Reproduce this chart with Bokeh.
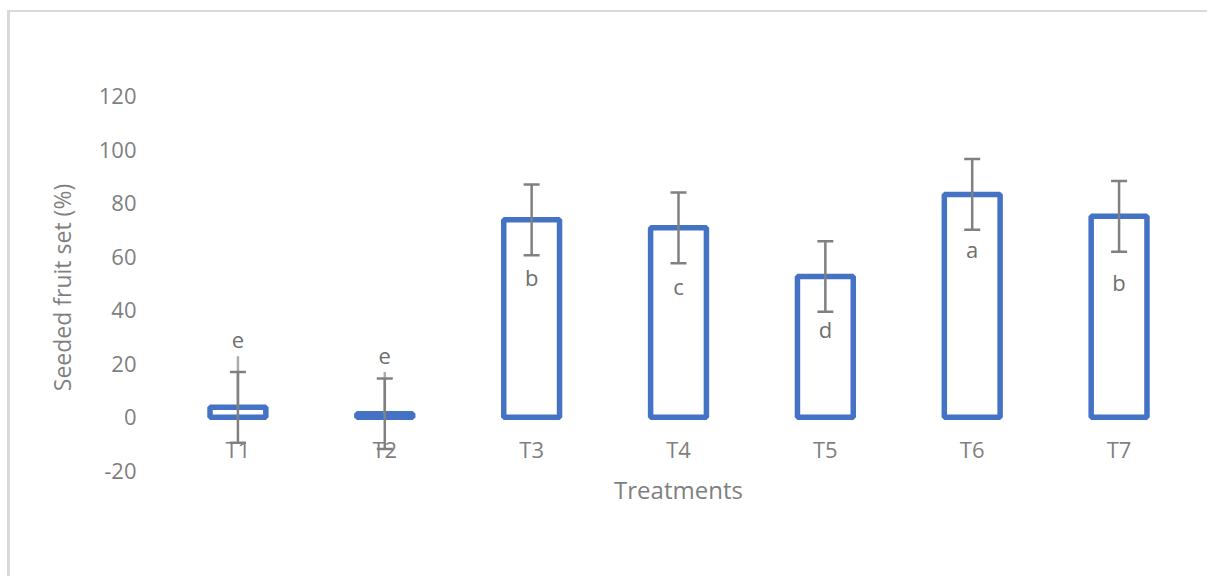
from bokeh.plotting import figure
from bokeh.models import ColumnDataSource, Whisker, FixedTicker, FactorRange
from bokeh.core.properties import value
from bokeh.embed import file_html
from bokeh.resources import INLINE

# ---- data ----
treatments = ["T1", "T2", "T3", "T4", "T5", "T6", "T7"]
seeded_fruit_set = [3.7, 1.3, 73.8, 70.8, 52.6, 83.3, 75.1]
std_error = [13.2, 13.2, 13.2, 13.2, 13.2, 13.2, 13.2]
faint_upper = [22.8, 16.9]            # extra light stems seen on T1, T2
letters = ["e", "e", "b", "c", "d", "a", "b"]
letter_y = [28.7, 22.8, 52.3, 48.9, 33.1, 62.9, 50.5]
y_ticks = [-20, 0, 20, 40, 60, 80, 100, 120]

FONT = "Open Sans"
TXT = "#7F7F7F"

src = ColumnDataSource(dict(
    x=treatments,
    top=seeded_fruit_set,
    upper=[v + e for v, e in zip(seeded_fruit_set, std_error)],
    lower=[v - e for v, e in zip(seeded_fruit_set, std_error)],
    letter=letters,
    ly=letter_y,
))

p = figure(
    x_range=FactorRange(*treatments, range_padding=0),
    y_range=(-33, 130),
    width=1200, height=566,
    output_backend="svg", toolbar_location=None,
    min_border_left=154, min_border_right=18,
    min_border_top=57, min_border_bottom=73,
)
p.styles = {"border-top": "2px solid #D9D9D9", "border-left": "3px solid #D9D9D9",
            "margin-top": "10px", "margin-left": "7px"}
p.outline_line_color = None
p.grid.visible = False
p.background_fill_color = "white"

p.vbar(x="x", top="top", bottom=0, width=0.38, source=src,
       fill_color="white", line_color="#4472C4", line_width=5.5)

# faint stems
p.segment(x0=treatments[:2], y0=seeded_fruit_set[:2], x1=treatments[:2], y1=faint_upper,
          line_color="#ABABAB", line_width=2.5)

w = Whisker(base="x", upper="upper", lower="lower", source=src,
            line_color="#808080", line_width=2.5, level="overlay")
for head in (w.upper_head, w.lower_head):
    head.size = 16
    head.line_color = "#808080"
    head.line_width = 2.5
p.add_layout(w)

p.text(x="x", y="ly", text="letter", source=src, text_align="center",
       text_baseline="middle", text_font=value(FONT), text_font_size="22px",
       text_color="#6F6F6F")

# y axis
ya = p.yaxis[0]
ya.ticker = FixedTicker(ticks=y_ticks)
ya.major_label_overrides = {t: str(t) for t in y_ticks}
ya.axis_line_color = None
ya.major_tick_line_color = None
ya.minor_tick_line_color = None
ya.major_label_standoff = 22
ya.major_label_text_font = FONT
ya.major_label_text_font_size = "22px"
ya.major_label_text_color = TXT
ya.axis_label = "Seeded fruit set (%)"
ya.axis_label_text_font = FONT
ya.axis_label_text_font_size = "23px"
ya.axis_label_text_font_style = "normal"
ya.axis_label_text_color = TXT
ya.axis_label_standoff = 18

# x axis crossing at 0
xa = p.xaxis[0]
xa.fixed_location = 0
xa.axis_line_color = None
xa.major_tick_line_color = None
xa.minor_tick_line_color = None
xa.major_label_standoff = 11
xa.major_label_text_font = FONT
xa.major_label_text_font_size = "22px"
xa.major_label_text_color = TXT
xa.axis_label = "Treatments"
xa.axis_label_text_font = FONT
xa.axis_label_text_font_size = "24px"
xa.axis_label_text_font_style = "normal"
xa.axis_label_text_color = TXT
xa.axis_label_standoff = 5

open("out.html", "w").write(file_html(p, INLINE))
